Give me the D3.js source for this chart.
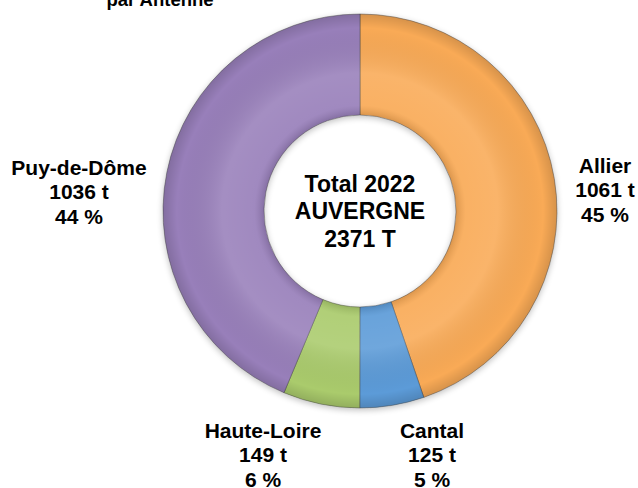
<!DOCTYPE html>
<html><head><meta charset="utf-8">
<script src="https://cdn.jsdelivr.net/npm/d3@7"></script>
<style>html,body{margin:0;padding:0;background:#fff;}svg{display:block;}</style>
</head><body>
<svg id="c" width="638" height="488"></svg>
<script>
const categories = ["Allier", "Cantal", "Haute-Loire", "Puy-de-Dôme"];
const tonnes = [1061, 125, 149, 1036];
const percents = [45, 5, 6, 44];
const colors = ["#F9AA57", "#5B9BD8", "#AACB6C", "#987FBA"];
const centerLines = ["Total 2022", "AUVERGNE", "2371 T"];
const titleText = "par Antenne";

const svg = d3.select("#c");
const cx = 360, cy = 211, rOut = 197, rIn = 96;
const font = "Arial, 'Liberation Sans', sans-serif";

const defs = svg.append("defs");
const rg = defs.append("radialGradient").attr("id", "bevel")
  .attr("gradientUnits", "userSpaceOnUse").attr("cx", 0).attr("cy", 0).attr("r", rOut);
const k = rIn / rOut;
[[k, "#000", 0.12], [k + 0.05, "#fff", 0.08], [0.7, "#fff", 0.12], [0.93, "#000", 0.0], [1, "#000", 0.14]]
  .forEach(([o, c, a]) => rg.append("stop").attr("offset", o).attr("stop-color", c).attr("stop-opacity", a));

const f = defs.append("filter").attr("id", "sh").attr("x", "-20%").attr("y", "-20%").attr("width", "140%").attr("height", "140%");
f.append("feGaussianBlur").attr("in", "SourceAlpha").attr("stdDeviation", 3);
f.append("feOffset").attr("dx", 0).attr("dy", 2).attr("result", "b");
f.append("feComponentTransfer").append("feFuncA").attr("type", "linear").attr("slope", 0.25);
const fm = f.append("feMerge");
fm.append("feMergeNode");
fm.append("feMergeNode").attr("in", "SourceGraphic");

// title (cut at top, as in the reference)
svg.append("text").attr("x", 160).attr("y", 6).attr("text-anchor", "middle")
  .attr("font-family", font).attr("font-weight", "bold").attr("font-size", 18.5).attr("fill", "#000")
  .text(titleText);

const pie = d3.pie().sort(null).value(d => d)(tonnes);
const arc = d3.arc().innerRadius(rIn).outerRadius(rOut);
const g = svg.append("g").attr("transform", `translate(${cx},${cy})`);
const gs = g.append("g").attr("filter", "url(#sh)");
gs.selectAll("path.s").data(pie).join("path").attr("class", "s")
  .attr("d", arc).attr("fill", (d, i) => colors[i])
  .attr("stroke", "#4a4a4a").attr("stroke-width", 0.8).attr("stroke-opacity", 0.6);
g.append("path").attr("d", d3.arc().innerRadius(rIn).outerRadius(rOut).startAngle(0).endAngle(2 * Math.PI)())
  .attr("fill", "url(#bevel)").style("pointer-events", "none");

// center text
const cBase = [192, 219, 247];
centerLines.forEach((t, i) => {
  svg.append("text").attr("x", cx).attr("y", cBase[i]).attr("text-anchor", "middle")
    .attr("font-family", font).attr("font-weight", "bold").attr("font-size", 23).attr("fill", "#000").text(t);
});

// labels
const labelPos = [
  { x: 605, y: 173 },
  { x: 432, y: 438 },
  { x: 263, y: 438 },
  { x: 79, y: 175 }
];
categories.forEach((c, i) => {
  const lines = [c, tonnes[i] + " t", percents[i] + " %"];
  lines.forEach((t, j) => {
    svg.append("text").attr("x", labelPos[i].x).attr("y", labelPos[i].y + j * 24.3)
      .attr("text-anchor", "middle").attr("font-family", font).attr("font-weight", "bold")
      .attr("font-size", 21).attr("fill", "#000").text(t);
  });
});
</script>
</body></html>
